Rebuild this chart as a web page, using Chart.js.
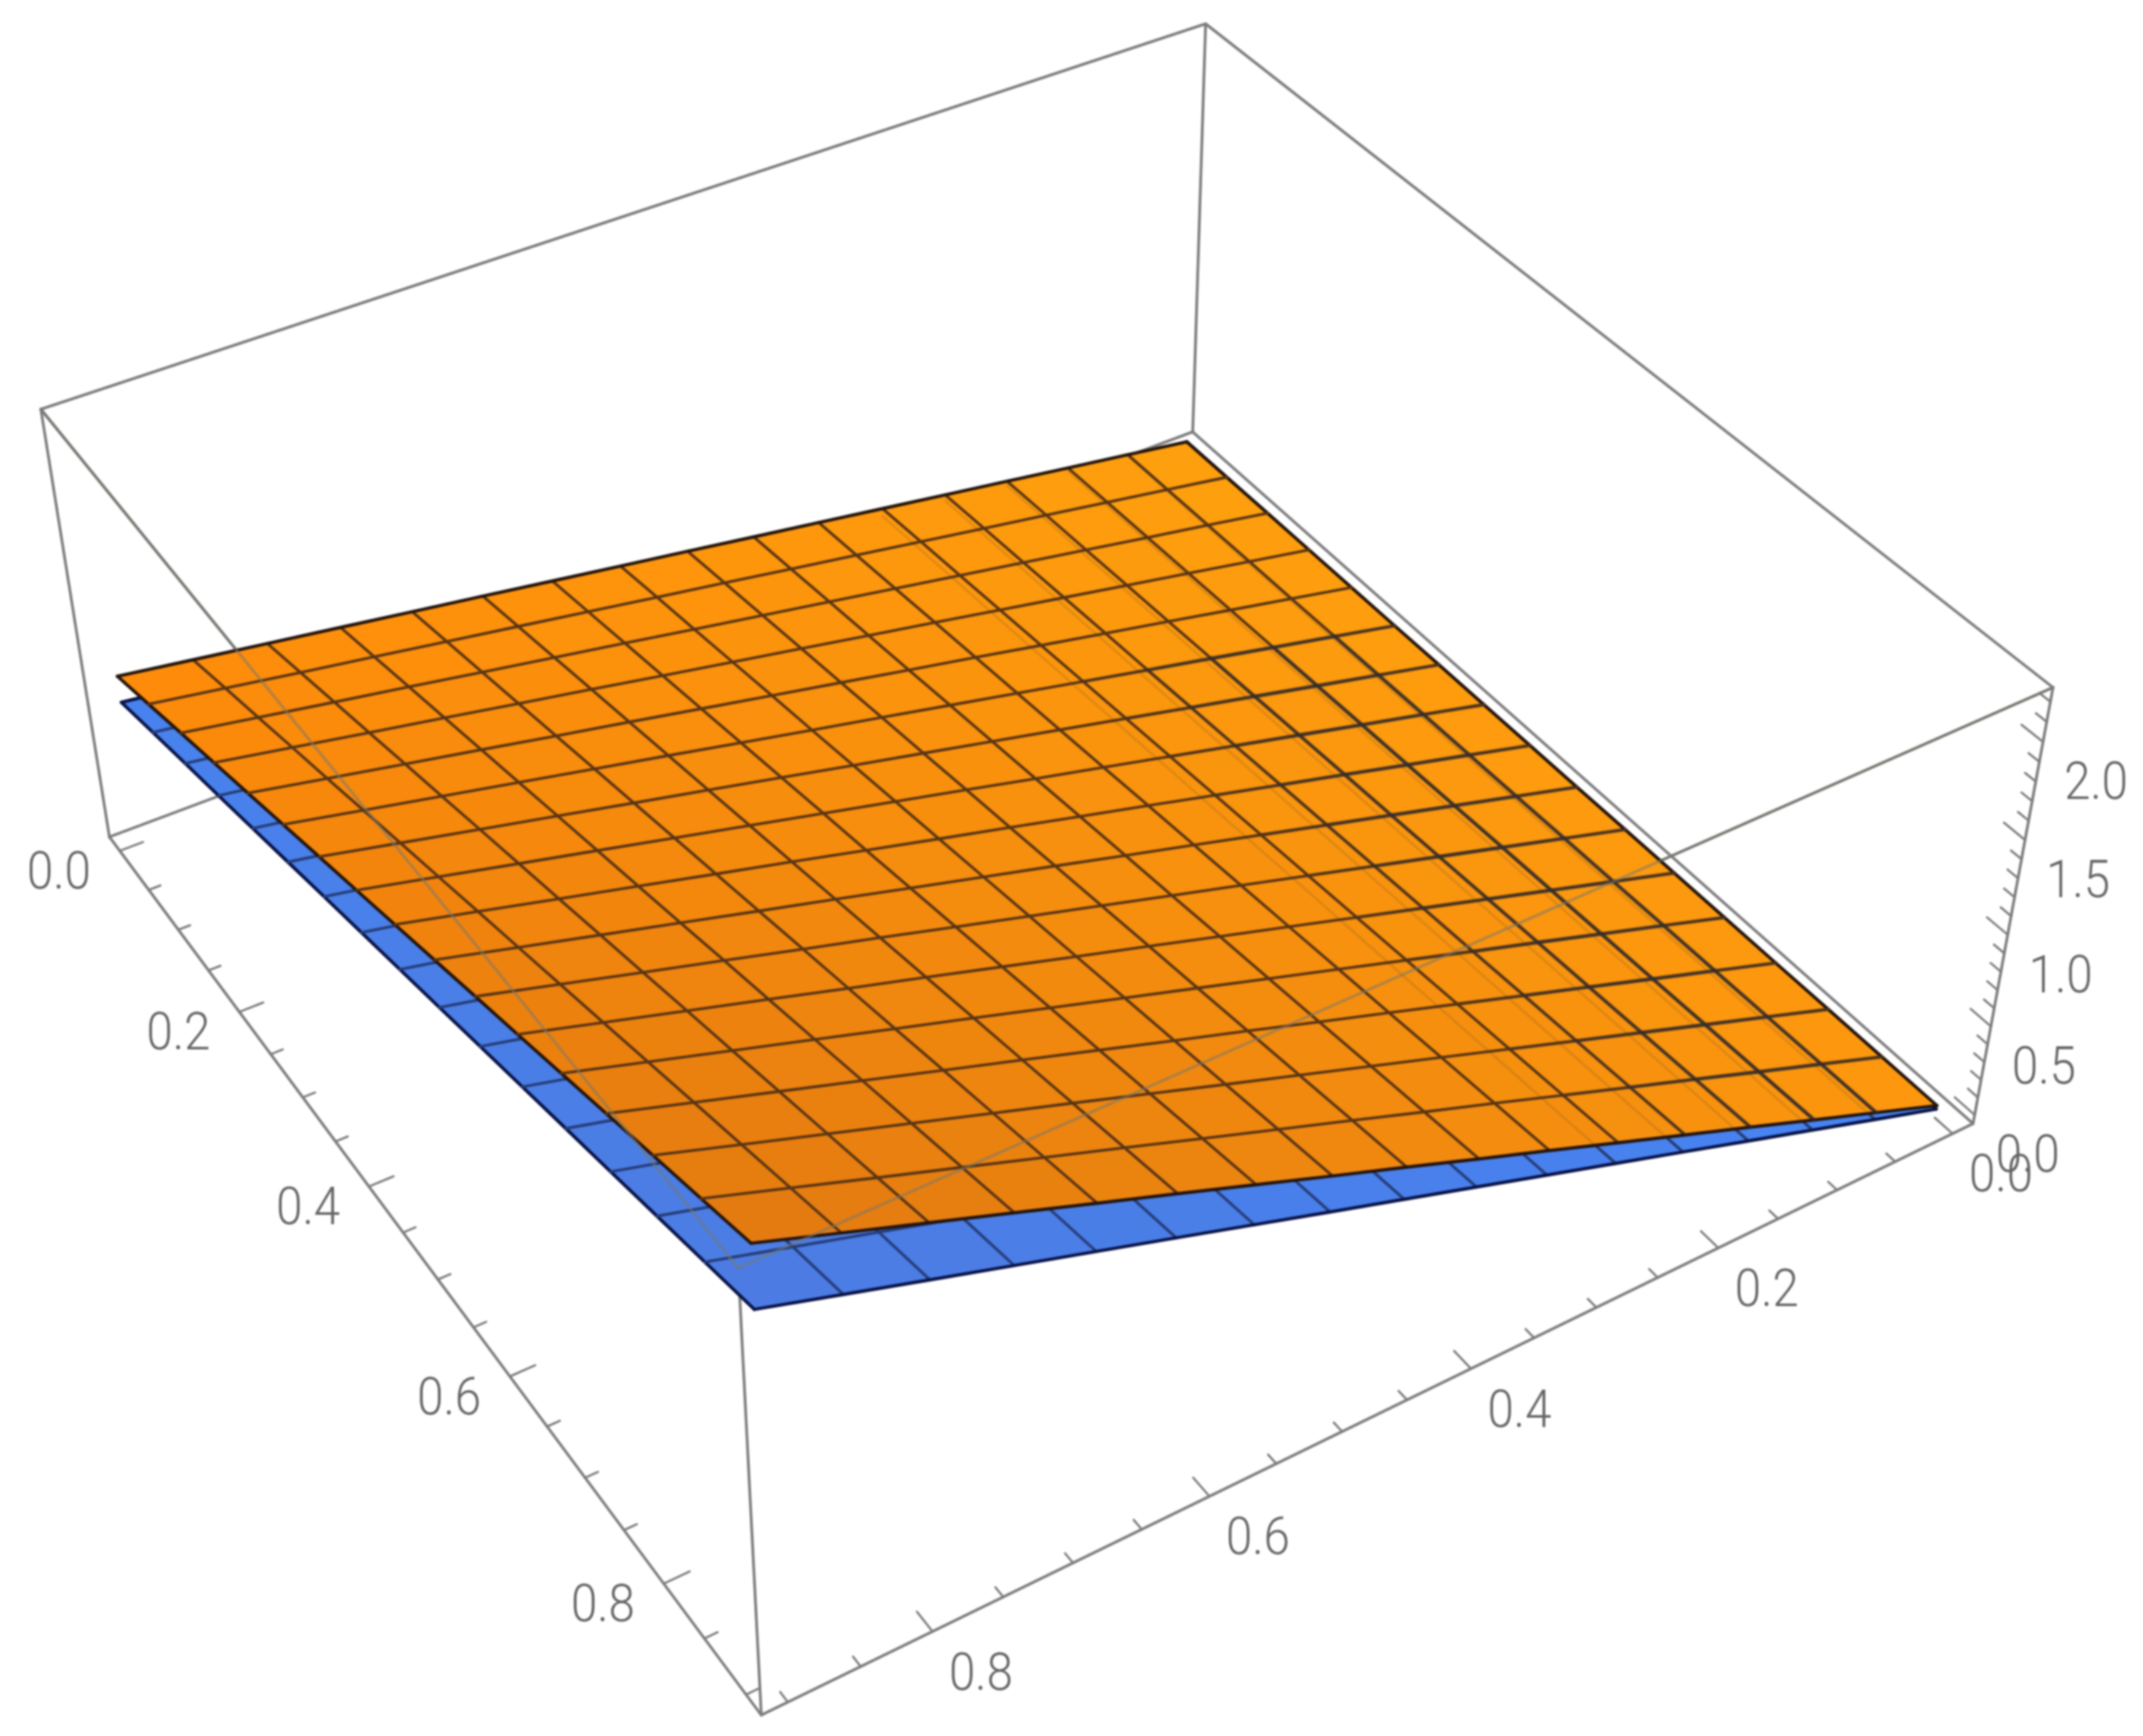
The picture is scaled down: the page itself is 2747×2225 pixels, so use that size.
<!DOCTYPE html>
<html><head><meta charset="utf-8">
<script src="https://cdn.jsdelivr.net/npm/chart.js@4/dist/chart.umd.min.js"></script>
<style>html,body{margin:0;padding:0;background:#fff}canvas{display:block;filter:blur(0.9px)}</style>
</head><body><canvas id="c" width="2747" height="2225"></canvas>
<script>
// Mesh positions along the two horizontal axes
const pGrid=[0,0.05625,0.1125,0.16875,0.225,0.28125,0.3375,0.39375,0.45,0.50625,0.5625,0.61875,0.675,0.73125,0.7875,0.84375,0.9];
const qGrid=[0,0.05625,0.1125,0.16875,0.225,0.28125,0.3375,0.39375,0.45,0.50625,0.5625,0.61875,0.675,0.73125,0.7875,0.84375,0.9];
// Upper (orange) surface heights: rows follow qGrid, columns follow pGrid
const orangeZ=[
[0,.001,.003,.004,.005,.006,.008,.009,.01,.011,.013,.014,.015,.016,.018,.019,.02],
[.056,.062,.069,.075,.081,.088,.094,.101,.107,.113,.120,.126,.133,.139,.146,.152,.158],
[.111,.123,.134,.146,.157,.169,.180,.192,.203,.215,.227,.238,.250,.261,.273,.284,.296],
[.167,.184,.200,.217,.234,.251,.267,.284,.301,.317,.334,.351,.368,.384,.401,.418,.435],
[.222,.244,.266,.288,.310,.331,.353,.375,.397,.419,.441,.463,.484,.506,.528,.550,.572],
[.278,.305,.332,.359,.386,.413,.440,.467,.494,.521,.548,.575,.602,.629,.656,.683,.710],
[.334,.366,.398,.431,.463,.495,.527,.559,.592,.624,.656,.688,.720,.752,.785,.817,.849],
[.389,.426,.464,.501,.538,.576,.613,.650,.688,.725,.762,.800,.837,.874,.912,.949,.986],
[.445,.488,.530,.573,.615,.658,.700,.743,.785,.828,.870,.913,.955,.998,1.040,1.083,1.125],
[.500,.548,.595,.643,.691,.738,.786,.834,.881,.929,.977,1.024,1.072,1.119,1.167,1.215,1.262],
[.556,.609,.662,.714,.767,.820,.873,.926,.978,1.031,1.084,1.137,1.190,1.243,1.295,1.348,1.401],
[.612,.670,.728,.786,.844,.902,.960,1.018,1.076,1.134,1.192,1.250,1.308,1.366,1.424,1.482,1.540],
[.667,.730,.793,.856,.919,.983,1.046,1.109,1.172,1.235,1.298,1.361,1.424,1.488,1.551,1.614,1.677],
[.723,.791,.860,.928,.996,1.064,1.133,1.201,1.269,1.337,1.406,1.474,1.542,1.611,1.679,1.747,1.815],
[.778,.851,.925,.998,1.072,1.145,1.219,1.292,1.365,1.439,1.512,1.586,1.659,1.733,1.806,1.879,1.953],
[.834,.913,.991,1.070,1.148,1.227,1.306,1.384,1.463,1.541,1.620,1.698,1.777,1.856,1.934,2.013,2.091],
[.890,.974,1.058,1.141,1.225,1.309,1.393,1.476,1.560,1.644,1.728,1.811,1.895,1.979,2.063,2.146,2.230]];
// Lower (blue) surface heights
const blueZ=[
[0,0,0,0,0,0,0,0,0,0,0,0,0,0,0,0,0],
[.047,.051,.056,.060,.065,.069,.074,.079,.083,.088,.092,.097,.101,.106,.110,.115,.119],
[.093,.102,.111,.121,.130,.139,.148,.157,.166,.175,.184,.193,.202,.212,.221,.230,.239],
[.140,.154,.167,.181,.195,.208,.222,.236,.249,.263,.276,.290,.304,.317,.331,.345,.358],
[.186,.205,.223,.241,.259,.277,.296,.314,.332,.350,.368,.387,.405,.423,.441,.459,.478],
[.233,.256,.279,.301,.324,.347,.370,.392,.415,.438,.461,.483,.506,.529,.552,.574,.597],
[.280,.307,.334,.362,.389,.416,.443,.471,.498,.525,.553,.580,.607,.634,.662,.689,.716],
[.326,.358,.390,.422,.454,.485,.517,.549,.581,.613,.645,.676,.708,.740,.772,.804,.836],
[.373,.409,.446,.482,.519,.555,.591,.628,.664,.701,.737,.773,.810,.846,.883,.919,.955],
[.419,.460,.501,.542,.583,.624,.665,.706,.747,.788,.829,.870,.910,.951,.992,1.033,1.074],
[.466,.512,.557,.603,.648,.694,.739,.785,.830,.876,.921,.967,1.012,1.058,1.103,1.149,1.194],
[.513,.563,.613,.663,.713,.763,.813,.863,.913,.963,1.013,1.063,1.113,1.163,1.214,1.264,1.314],
[.559,.614,.668,.723,.777,.832,.887,.941,.996,1.050,1.105,1.160,1.214,1.269,1.323,1.378,1.433],
[.606,.665,.724,.783,.843,.902,.961,1.020,1.079,1.138,1.198,1.257,1.316,1.375,1.434,1.493,1.552],
[.652,.716,.779,.843,.907,.971,1.034,1.098,1.162,1.225,1.289,1.353,1.416,1.480,1.544,1.608,1.671],
[.699,.767,.836,.904,.972,1.040,1.109,1.177,1.245,1.313,1.382,1.450,1.518,1.586,1.655,1.723,1.791],
[.746,.819,.892,.964,1.037,1.110,1.183,1.256,1.328,1.401,1.474,1.547,1.620,1.692,1.765,1.838,1.911]];
// Axis ticks
const horizTicks=[0,.05,.1,.15,.2,.25,.3,.35,.4,.45,.5,.55,.6,.65,.7,.75,.8,.85,.9];
const horizLabels=[0,.2,.4,.6,.8];
const zTicks=[0,.1,.2,.3,.4,.5,.6,.7,.8,.9,1,1.1,1.2,1.3,1.4,1.5,1.6,1.7,1.8,1.9,2,2.1,2.2];
const zLabels=[0,.5,1,1.5,2];
// Box limits
const pRange=[-0.018,0.918], qRange=[-0.018,0.918], zRange=[-0.05,2.27];

// Camera: calibrated from where the eight box corners fall on the page
const cameraAnchors=[[0,0,0,1529,554],[1,0,0,2531,1441],[0,1,0,140,1074],[1,1,0,974,2195],
 [0,0,1,1545,31],[1,0,1,2630,879],[0,1,1,53,522],[1,1,1,948,1630]];
function solveCamera(){
  const A=[],B=[];
  for(const [u,v,w,x,y] of cameraAnchors){
    A.push([u,v,w,1,0,0,0,0,-x*u,-x*v,-x*w]);B.push(x);
    A.push([0,0,0,0,u,v,w,1,-y*u,-y*v,-y*w]);B.push(y);
  }
  const n=11,M=[];
  for(let i=0;i<n;i++){M.push(new Array(n+1).fill(0));
    for(let j=0;j<n;j++)for(let r=0;r<A.length;r++)M[i][j]+=A[r][i]*A[r][j];
    for(let r=0;r<A.length;r++)M[i][n]+=A[r][i]*B[r];}
  for(let c=0;c<n;c++){let b=c;for(let r=c+1;r<n;r++)if(Math.abs(M[r][c])>Math.abs(M[b][c]))b=r;
    [M[c],M[b]]=[M[b],M[c]];
    for(let r=0;r<n;r++)if(r!==c){const f=M[r][c]/M[c][c];for(let k=c;k<=n;k++)M[r][k]-=f*M[c][k];}}
  return M.map((row,i)=>row[n]/row[i]);
}
const cam=solveCamera();
function proj(p,q,z){
  const u=(p-pRange[0])/(pRange[1]-pRange[0]),v=(q-qRange[0])/(qRange[1]-qRange[0]),w=(z-zRange[0])/(zRange[1]-zRange[0]);
  const d=cam[8]*u+cam[9]*v+cam[10]*w+1;
  return {x:(cam[0]*u+cam[1]*v+cam[2]*w+cam[3])/d,y:(cam[4]*u+cam[5]*v+cam[6]*w+cam[7])/d};
}
const datasets=[];
function path(pts,stroke,width,fill){
  datasets.push({data:pts,showLine:true,pointRadius:0,borderColor:stroke,borderWidth:width,tension:0,
    borderJoinStyle:'round',borderCapStyle:'round',fill:fill?'shape':false,backgroundColor:fill||'transparent'});
}
const P0=pRange[0],P1=pRange[1],Q0=qRange[0],Q1=qRange[1],Z0=zRange[0],Z1=zRange[1];
const edge=(a,b,col,w)=>path([proj(...a),proj(...b)],col,w);
const boxGray='rgb(125,125,125)',boxW=3.6;
const boxEdges=[
 [[P0,Q0,Z0],[P1,Q0,Z0]],[[P0,Q0,Z0],[P0,Q1,Z0]],[[P0,Q0,Z0],[P0,Q0,Z1]],
 [[P1,Q0,Z0],[P1,Q1,Z0]],[[P0,Q1,Z0],[P1,Q1,Z0]],[[P1,Q1,Z0],[P1,Q1,Z1]],
 [[P1,Q0,Z0],[P1,Q0,Z1]],[[P0,Q1,Z0],[P0,Q1,Z1]],
 [[P0,Q0,Z1],[P1,Q0,Z1]],[[P0,Q0,Z1],[P0,Q1,Z1]],[[P1,Q0,Z1],[P1,Q1,Z1]],[[P0,Q1,Z1],[P1,Q1,Z1]]];
boxEdges.forEach(e=>edge(e[0],e[1],boxGray,boxW));
// Ticks
const isMajorH=t=>horizLabels.some(l=>Math.abs(l-t)<1e-6), isMajorZ=t=>zLabels.some(l=>Math.abs(l-t)<1e-6);
horizTicks.forEach(t=>{const L=isMajorH(t)?0.018:0.009;
  edge([t,Q1,Z0],[t,Q1-L,Z0],boxGray,2.8);
  edge([P1,t,Z0],[P1-L,t,Z0],boxGray,2.8);});
zTicks.forEach(t=>{const L=isMajorZ(t)?0.02:0.01;edge([P1,Q0,t],[P1-L,Q0,t],boxGray,2.8);});

const mix=(a,b,t)=>a.map((v,i)=>v+(b[i]-v)*t);
function shade(c00,c10,c01,c11,t,s){const c=mix(mix(c00,c10,t),mix(c01,c11,t),s);return `rgb(${c.map(Math.round).join(',')})`;}
function surface(Z,cols,meshCol,edgeCol){
  const n=pGrid.length-1;
  for(let j=0;j<n;j++)for(let i=0;i<n;i++){
    const col=shade(cols[0],cols[1],cols[2],cols[3],(i+.5)/n,(j+.5)/n);
    path([proj(pGrid[i],qGrid[j],Z[j][i]),proj(pGrid[i+1],qGrid[j],Z[j][i+1]),proj(pGrid[i+1],qGrid[j+1],Z[j+1][i+1]),
          proj(pGrid[i],qGrid[j+1],Z[j+1][i]),proj(pGrid[i],qGrid[j],Z[j][i])],col,1,col);
  }
  const m=pGrid.length;
  for(let j=0;j<m;j++){const b=j===0||j===m-1;
    path(pGrid.map((p,i)=>proj(p,qGrid[j],Z[j][i])),b?edgeCol:meshCol,b?4.2:3.6);}
  for(let i=0;i<m;i++){const b=i===0||i===m-1;
    path(qGrid.map((q,j)=>proj(pGrid[i],q,Z[j][i])),b?edgeCol:meshCol,b?4.2:3.6);}
}
surface(blueZ,[[70,132,244],[70,132,244],[72,130,238],[76,124,226]],'rgb(38,60,120)','rgb(8,18,70)');
surface(orangeZ,[[254,160,14],[254,152,14],[255,140,10],[226,122,16]],'rgb(88,52,20)','rgb(35,20,12)');
// Heavier mesh in the band near the back edge where the lower mesh nearly coincides
(function(){
  const Z=orangeZ,n=pGrid.length,band=[0.32,0.5,0.55,0.42,0.2];
  for(let j=1;j<5;j++)path(pGrid.slice(5).map((p,i)=>proj(p,qGrid[j],Z[j][i+5])),`rgba(45,45,50,${band[j]})`,5.2);
  for(let i=5;i<n-1;i++)for(let j=0;j<5;j++)
    path([proj(pGrid[i],qGrid[j],Z[j][i]),proj(pGrid[i],qGrid[j+1],Z[j+1][i])],`rgba(45,45,50,${band[j]})`,5.2);
  const G=blueZ;
  for(let j=1;j<6;j++)path(pGrid.map((p,i)=>proj(p,qGrid[j],G[j][i])),'rgba(60,50,45,0.14)',3);
})();
edge([P0,Q1,Z1],[P1,Q1,Z1],'rgba(120,120,110,0.55)',3.6);
edge([P1,Q0,Z1],[P1,Q1,Z1],'rgba(120,120,110,0.55)',3.6);
datasets.forEach((d,i)=>{d.order=datasets.length-i;});

const labelFont='300 66px Roboto, "Liberation Sans", sans-serif';
const tickText={
 id:'tickText',
 afterDatasetsDraw(ch){
  const {ctx,scales:{x,y}}=ch;
  const put=(pt,dx,dy,s)=>{ctx.save();ctx.translate(x.getPixelForValue(pt.x)+dx,y.getPixelForValue(pt.y)+dy);ctx.scale(0.92,1);ctx.fillText(s,0,0);ctx.restore();};
  ctx.save();ctx.font=labelFont;ctx.fillStyle='rgb(100,100,100)';ctx.textAlign='center';ctx.textBaseline='middle';
  horizLabels.forEach(t=>{put(proj(t,Q1,Z0),-78,32,t.toFixed(1));});
  horizLabels.forEach(t=>{put(proj(P1,t,Z0),62,58,t.toFixed(1));});
  zLabels.forEach(t=>{put(proj(P1,Q0,t),68,57,t.toFixed(1));});
  ctx.restore();
 }
};
new Chart(document.getElementById('c'),{
 type:'scatter',
 data:{datasets},
 options:{responsive:false,animation:false,devicePixelRatio:1,events:[],
  layout:{padding:0},
  plugins:{legend:{display:false},tooltip:{enabled:false},title:{display:false}},
  scales:{x:{type:'linear',min:0,max:2747,display:false},y:{type:'linear',min:0,max:2225,reverse:true,display:false}}
 },
 plugins:[tickText]
});
</script></body></html>
